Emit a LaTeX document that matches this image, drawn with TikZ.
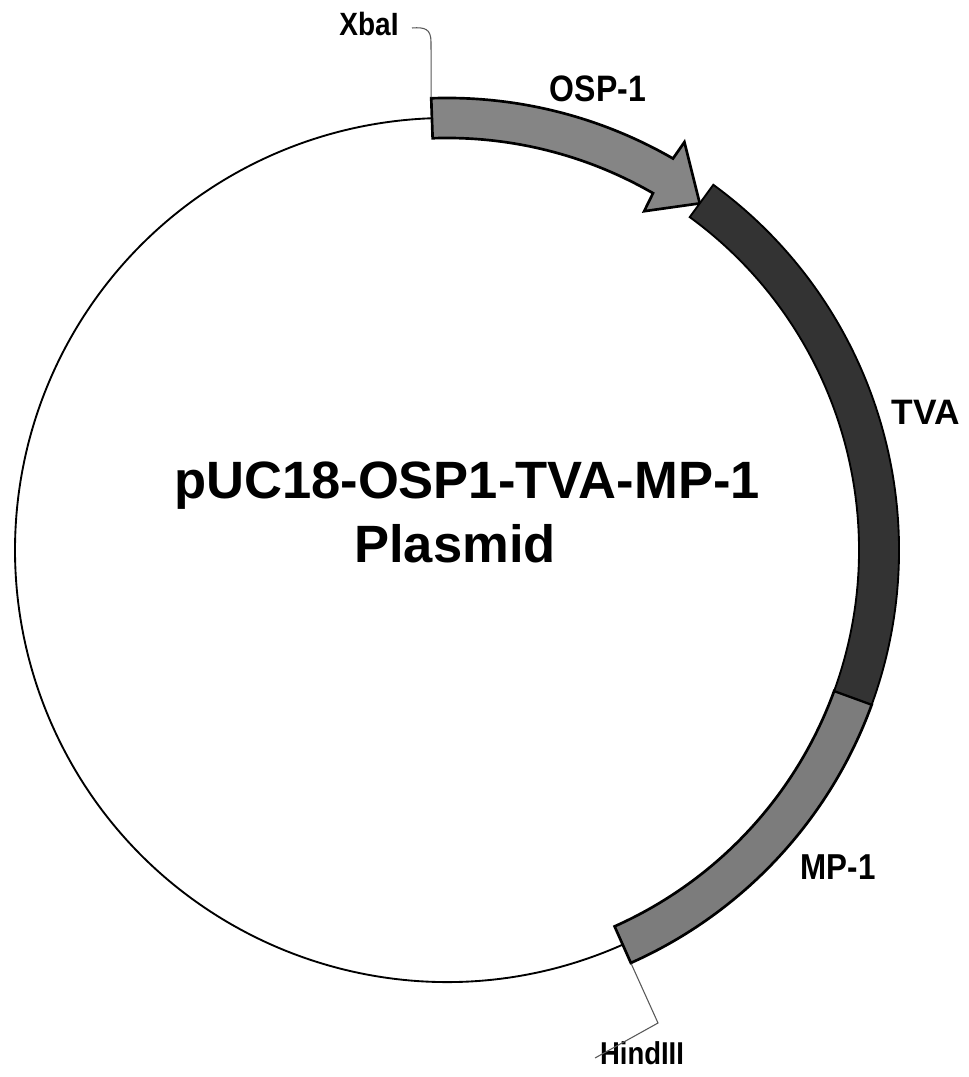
\documentclass[tikz,border=0pt]{standalone}
\usepackage{fontspec}
\setmainfont{Liberation Sans}
\definecolor{ospgray}{HTML}{858585}
\definecolor{mpgray}{HTML}{7C7C7C}
\definecolor{tvadark}{HTML}{333333}
\tikzset{
  plasmidline/.style={draw=black,line width=2pt,line join=miter},
  leader/.style={draw=black!65,line width=0.8pt},
  smalllabel/.style={font=\bfseries\fontsize{#1}{#1}\selectfont,inner sep=0pt,anchor=center,yscale=1.15,transform shape},
  plainlabel/.style={font=\bfseries\fontsize{#1}{#1}\selectfont,inner sep=0pt,anchor=center},
  title/.style={font=\bfseries\fontsize{39.4}{44}\selectfont,inner sep=0pt,anchor=center}
}
\begin{document}
\begin{tikzpicture}[x=0.75pt,y=0.75pt]
\useasboundingbox (0,0) rectangle (969,1077);
\fill[white] (0,0) rectangle (969,1077);
\begin{scope}[shift={(447,527)}]
  % backbone
  \draw[black,line width=1.4pt] (-66:432) arc[start angle=-66,end angle=-268,radius=432];
  % MP-1
  \draw[plasmidline,fill=mpgray] (-20:452) arc[start angle=-20,end angle=-66,radius=452]
    -- (-66:412) arc[start angle=-66,end angle=-20,radius=412] -- cycle;
  % OSP-1 arrow
  \draw[plasmidline,fill=ospgray] (92:452) arc[start angle=92,end angle=60,radius=452]
    -- (59.8:472) -- (53.9:429) -- (59.8:392) -- (60:412)
    arc[start angle=60,end angle=92,radius=412] -- cycle;
  % TVA
  \draw[draw=black,line width=1.4pt,fill=tvadark] (53.9:452) arc[start angle=53.9,end angle=-20,radius=452]
    -- (-20:412) arc[start angle=-20,end angle=53.9,radius=412] -- cycle;
  \coordinate (xbaend) at (92:453);
  \coordinate (hindend) at (-66:453);
\end{scope}
\node[smalllabel=21] (xbai) at (369,1053) {XbaI};
\node[smalllabel=24] (osp) at (598,988) {OSP-1};
\node[plainlabel=26.5] (tva) at (926,665) {TVA};
\node[smalllabel=23.5] (mp) at (838,210) {MP-1};
\node[smalllabel=20.6] (hind) at (642,24) {HindIII};
\node[title] (main) at (467,591) {pUC18-OSP1-TVA-MP-1};
\node[title] (plasmid) at (455,533) {Plasmid};
\coordinate (xbastart) at (412,1049);
\coordinate (hindstart) at (595,19);
\coordinate (hindbend) at (658,54);
\draw[leader] (xbastart) .. controls (425,1050) and (431,1048) .. (431,1035) -- (xbaend);
\draw[leader] (hindend) -- (hindbend) -- (hindstart);
\end{tikzpicture}
\end{document}
